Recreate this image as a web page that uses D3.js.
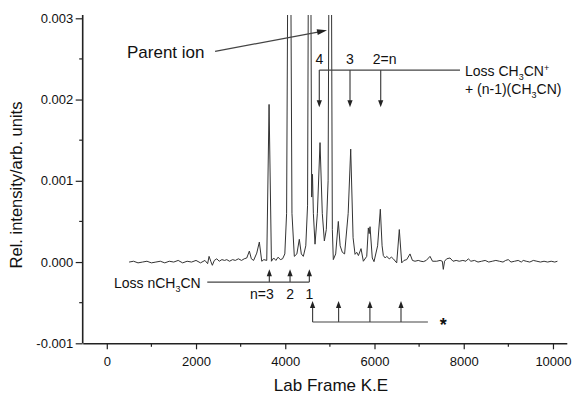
<!DOCTYPE html>
<html><head><meta charset="utf-8">
<script src="https://cdn.jsdelivr.net/npm/d3@7/dist/d3.min.js"></script>
<style>
body{margin:0;background:#fff;}
svg{display:block;font-family:Arial,"Liberation Sans",sans-serif;}
</style></head><body>
<svg id="c" width="572" height="395"></svg>
<script>
// ---- data ----
const energies = [500,600,700,800,900,1000,1100,1200,1300,1400,1500,1600,1700,1800,1900,2000,2100,2200,2260,2292,2330,2366,2410,2465,2520,2580,2640,2689,2750,2820,2880,2950,3020,3080,3137,3195,3240,3290,3361,3419,3473,3520,3585,3637,3690,3740,3790,3840,3890,3940,3990,4030,4060,4090,4120,4150,4203,4260,4315,4360,4405,4460,4500,4520,4545,4570,4592,4610,4630,4667,4720,4779,4830,4876,4920,4960,4982,5007,5032,5055,5077,5130,5189,5230,5279,5330,5410,5467,5520,5564,5602,5640,5698,5750,5826,5862,5880,5900,5950,5989,6070,6131,6170,6198,6240,6274,6330,6380,6422,6498,6556,6610,6660,6722,6796,6850,6908,6980,7040,7094,7160,7244,7300,7394,7470,7520,7542,7570,7618,7692,7760,7830,7900,7980,8050,8102,8160,8240,8320,8400,8480,8560,8640,8720,8800,8880,8940,8998,9060,9140,9220,9290,9334,9400,9480,9560,9640,9720,9800,9880,9960,10040,10100];
const intensities = [0,0.00001,-0.00001,0,0.00001,-0.00001,0,0.00001,-0.00001,0.00001,0,0.00002,-0.00001,0.00001,0,0.00002,-0.00001,0.00002,-0.00002,0.00007,0.00001,-0.00004,0.00002,0.00004,0.00001,0.00003,0.00002,0.00003,0.00001,0.00003,0.00002,0.00004,0.00002,0.00004,0.00005,0.000135,0.00004,0.00002,0.00011,0.000246,0.00001,0.00003,0.00002,0.00194,0.00001,0.00005,0.00002,0.00006,0.00003,0.00004,0.0001,0.0006,0.004,0.03,0.004,0.0006,0.00007,0.0001,0.00028,0.0001,0.00007,0.0002,0.0007,0.004,0.03,0.004,0.0008,0.00108,0.0006,0.00022,0.0006,0.00147,0.0006,0.00026,0.0004,0.001,0.004,0.03,0.004,0.0004,0.00003,0.0001,0.0005,0.0002,0.00012,0.0001,0.0006,0.00139,0.0003,0.000095,0.00012,0.00008,0.000165,0.00001,0.00007,0.00042,0.00035,0.000435,0.00005,0.000005,0.0002,0.00065,0.0002,0.00008,0.00005,0.00007,0.00004,0.00006,0.00004,-0.00001,0.0004,-0.00001,0.00002,0.00003,0.0001,0.00002,0.00001,0.00002,0.00001,0.000005,0.00002,0.00007,0.00001,0.00001,0.00002,0.00001,-0.00009,0.00001,0.00004,0.00005,0.00001,0.00002,0.00001,0.00002,0.00001,0.00004,0.00001,0.00002,0,0.00001,0.00002,0,0.00001,0.00002,0.00001,0,0.00002,0.00003,0,0.00001,0.00002,0,0.00002,0.00001,0,0.00002,0.00001,0,0.00001,0,0.00001,0,0.00001];
const xTicks = [0,2000,4000,6000,8000,10000];
const xMinorTicks = [1000,3000,5000,7000,9000];
const yTicks = [-0.001,0.000,0.001,0.002,0.003];
const yTickLabels = ["-0.001","0.000","0.001","0.002","0.003"];
const yMinorTicks = [-0.0005,0.0005,0.0015,0.0025];
// annotations (data units)
const ionLossPeaks = [4763,5451,6139];
const ionLossLabels = ["4","3","2=n"];
const neutralLossPeaks = [3643,4107,4540];
const neutralLossLabels = ["n=3","2","1"];
const starPeaks = [4612,5195,5897,6594];
const parentArrow = {from:[2427,0.002593], to:[4936,0.002852]};

// ---- chart ----
const svg = d3.select("#c");
const x = d3.scaleLinear().domain([-540,10310]).range([82.7,566.8]);
const y = d3.scaleLinear().domain([-0.001,0.003]).range([343.3,18.3]);
const yTop = 15;

svg.append("defs").append("clipPath").attr("id","clip")
  .append("rect").attr("x",x.range()[0]).attr("y",yTop).attr("width",x.range()[1]-x.range()[0]).attr("height",y(-0.001)-yTop);

// axes
const xAxis = d3.axisBottom(x).tickValues(xTicks).tickSize(6).tickSizeOuter(0).tickFormat(d3.format("d"));
const gx = svg.append("g").attr("transform",`translate(0,${y(-0.001)})`).call(xAxis);
gx.selectAll(".tick text").attr("font-size",13).attr("font-family","Arial,'Liberation Sans'").attr("dy","1.05em").attr("fill","#111");
gx.selectAll(".tick line").attr("stroke","#222").attr("stroke-width",1.2);
gx.select(".domain").attr("stroke","#222").attr("stroke-width",1.6);
gx.selectAll(".minor").data(xMinorTicks).enter().append("line").attr("class","minor")
  .attr("x1",d=>x(d)).attr("x2",d=>x(d)).attr("y1",0).attr("y2",3.5).attr("stroke","#222").attr("stroke-width",1.2);

const yAxis = d3.axisLeft(y).tickValues(yTicks).tickSize(7).tickSizeOuter(0).tickFormat((d,i)=>yTickLabels[i]);
const gy = svg.append("g").attr("transform",`translate(${x.range()[0]},0)`).call(yAxis);
gy.selectAll(".tick text").attr("font-size",13).attr("font-family","Arial,'Liberation Sans'").attr("x",-9.5).attr("fill","#111");
gy.selectAll(".tick line").attr("stroke","#222").attr("stroke-width",1.2);
gy.select(".domain").attr("stroke","#222").attr("stroke-width",1.6).attr("d",`M0,${y(-0.001)}V${yTop}`);
gy.selectAll(".minor").data(yMinorTicks).enter().append("line").attr("class","minor")
  .attr("x1",0).attr("x2",-3.5).attr("y1",d=>y(d)).attr("y2",d=>y(d)).attr("stroke","#222").attr("stroke-width",1.2);

// titles
svg.append("text").attr("x",331).attr("y",391).attr("text-anchor","middle").attr("font-size",17).attr("fill","#111").text("Lab Frame K.E");
svg.append("text").attr("transform","translate(22,185) rotate(-90)").attr("text-anchor","middle").attr("font-size",16.5).attr("fill","#111").text("Rel. intensity/arb. units");

// spectrum
const pts = energies.map((e,i)=>[e,intensities[i]]);
svg.append("path").datum(pts).attr("clip-path","url(#clip)")
  .attr("fill","none").attr("stroke","#333").attr("stroke-width",1)
  .attr("d",d3.line().x(d=>x(d[0])).y(d=>y(d[1])));

// arrow helper
const ann = svg.append("g").attr("stroke","#444").attr("fill","#222");
function arrowHead(tx,ty,dir){ // dir: +1 pointing down, -1 pointing up
  const L=7,W=2.6;
  ann.append("path").attr("stroke","none")
    .attr("d",`M${tx},${ty}L${tx-W},${ty-dir*L}L${tx+W},${ty-dir*L}Z`);
}

// upper: Loss CH3CN+ + (n-1)(CH3CN)
const upLineY = y(0.002363), upTipY = y(0.001904);
ann.append("line").attr("x1",x(ionLossPeaks[0])).attr("x2",x(7916)).attr("y1",upLineY).attr("y2",upLineY).attr("stroke-width",1.2);
ionLossPeaks.forEach((p,i)=>{
  ann.append("line").attr("x1",x(p)).attr("x2",x(p)).attr("y1",upLineY).attr("y2",upTipY-5).attr("stroke-width",1.2);
  arrowHead(x(p),upTipY,1);
  svg.append("text").attr("x",x(p)+(i===2?-8:0)).attr("y",upLineY-6).attr("text-anchor",i===2?"start":"middle")
    .attr("font-size",14).attr("fill","#111").text(ionLossLabels[i]);
});
const t1 = svg.append("text").attr("x",465).attr("y",76).attr("font-size",14).attr("fill","#111");
t1.append("tspan").text("Loss CH");
t1.append("tspan").attr("font-size",9).attr("dy",4).text("3");
t1.append("tspan").attr("dy",-4).text("CN");
t1.append("tspan").attr("font-size",9).attr("dy",-5).text("+");
const t2 = svg.append("text").attr("x",465).attr("y",94).attr("font-size",14).attr("fill","#111");
t2.append("tspan").text("+ (n-1)(CH");
t2.append("tspan").attr("font-size",9).attr("dy",4).text("3");
t2.append("tspan").attr("dy",-4).text("CN)");

// lower: Loss nCH3CN
const loLineY = y(-0.000246), loTipY = y(-0.00009);
ann.append("line").attr("x1",x(2252)).attr("x2",x(neutralLossPeaks[2])).attr("y1",loLineY).attr("y2",loLineY).attr("stroke-width",1.2);
neutralLossPeaks.forEach((p,i)=>{
  ann.append("line").attr("x1",x(p)).attr("x2",x(p)).attr("y1",loLineY).attr("y2",loTipY+5).attr("stroke-width",1.2);
  arrowHead(x(p),loTipY,-1);
  svg.append("text").attr("x",x(p)+(i===0?4.5:0)).attr("y",loLineY+17).attr("text-anchor",i===0?"end":"middle")
    .attr("font-size",14).attr("fill","#111").text(neutralLossLabels[i]);
});
const t3 = svg.append("text").attr("x",114).attr("y",288).attr("font-size",14).attr("fill","#111");
t3.append("tspan").text("Loss nCH");
t3.append("tspan").attr("font-size",9).attr("dy",4).text("3");
t3.append("tspan").attr("dy",-4).text("CN");

// star series
const stLineY = y(-0.000738), stTipY = y(-0.00048);
ann.append("line").attr("x1",x(starPeaks[0])).attr("x2",x(7197)).attr("y1",stLineY).attr("y2",stLineY).attr("stroke-width",1.2);
starPeaks.forEach(p=>{
  ann.append("line").attr("x1",x(p)).attr("x2",x(p)).attr("y1",stLineY).attr("y2",stTipY+5).attr("stroke-width",1.2);
  arrowHead(x(p),stTipY,-1);
});
svg.append("text").attr("x",x(7540)).attr("y",331).attr("text-anchor","middle").attr("font-size",18).attr("font-weight","bold").attr("fill","#111").text("*");

// parent ion
svg.append("text").attr("x",127).attr("y",58).attr("font-size",17).attr("fill","#111").text("Parent ion");
const ax1=x(parentArrow.from[0]), ay1=y(parentArrow.from[1]), ax2=x(parentArrow.to[0]), ay2=y(parentArrow.to[1]);
const ang=Math.atan2(ay2-ay1,ax2-ax1);
ann.append("line").attr("x1",ax1).attr("y1",ay1).attr("x2",ax2-8*Math.cos(ang)).attr("y2",ay2-8*Math.sin(ang)).attr("stroke-width",1.2);
ann.append("path").attr("stroke","none").attr("d",
  `M${ax2},${ay2}L${ax2-10*Math.cos(ang)+3*Math.sin(ang)},${ay2-10*Math.sin(ang)-3*Math.cos(ang)}L${ax2-10*Math.cos(ang)-3*Math.sin(ang)},${ay2-10*Math.sin(ang)+3*Math.cos(ang)}Z`);
</script></body></html>
